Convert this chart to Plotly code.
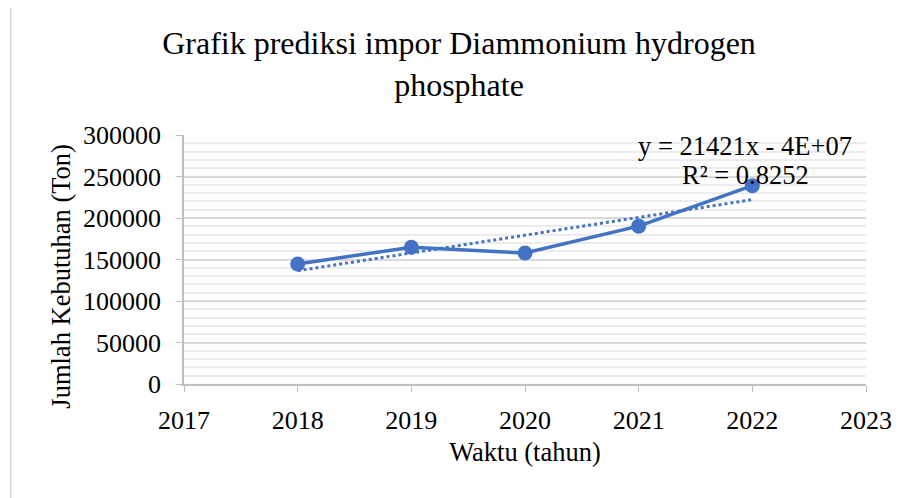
import numpy as np
import plotly.graph_objects as go

# data
tahun = [2018, 2019, 2020, 2021, 2022]
kebutuhan = [144600, 164800, 157780, 190210, 239000]

x_ticks = [2017, 2018, 2019, 2020, 2021, 2022, 2023]

# linear trendline (Excel style)
slope, intercept = np.polyfit(tahun, kebutuhan, 1)
trend = np.polyval([slope, intercept], tahun)
y_arr = np.array(kebutuhan)
r2 = 1 - np.sum((y_arr - trend) ** 2) / np.sum((y_arr - y_arr.mean()) ** 2)
sign = "-" if intercept < 0 else "+"
eq_line = f"y = {slope:.0f}x {sign} {abs(intercept):.0E}"
r2_line = f"R² = {r2:.4f}"

blue = "#4472C4"
serif = "Liberation Serif"

data_line = go.Scatter(
    x=tahun,
    y=kebutuhan,
    mode="lines+markers",
    line=dict(color=blue, width=3.5),
    marker=dict(color=blue, size=15),
    showlegend=False,
)
trend_line = go.Scatter(
    x=tahun,
    y=trend,
    mode="lines",
    line=dict(color=blue, width=3, dash="dot"),
    showlegend=False,
)

fig = go.Figure([trend_line, data_line])

# the page body adds an 8px offset, so the figure is 902x490
fig.update_layout(
    width=902,
    height=490,
    margin=dict(l=176, r=44, t=127, b=114),
    paper_bgcolor="white",
    plot_bgcolor="white",
    font=dict(family=serif, size=26, color="black"),
    title=dict(
        text="Grafik prediksi impor Diammonium hydrogen<br>phosphate",
        x=0.5,
        xanchor="center",
        y=0.906,
        yanchor="top",
        font=dict(family=serif, size=32, color="black"),
    ),
)

fig.update_xaxes(
    range=[2017, 2023],
    tickvals=x_ticks,
    ticks="outside",
    ticklen=6,
    tickcolor="#bfbfbf",
    ticklabelstandoff=6,
    tickfont=dict(family=serif, size=26),
    showline=True,
    linecolor="#bfbfbf",
    linewidth=1.5,
    showgrid=False,
    zeroline=False,
    title=dict(text="Waktu (tahun)", standoff=8, font=dict(family=serif, size=26.5)),
)
fig.update_yaxes(
    range=[0, 300000],
    dtick=50000,
    tickformat="d",
    ticks="outside",
    ticklen=6,
    tickcolor="#bfbfbf",
    ticklabelstandoff=10,
    tickfont=dict(family=serif, size=26),
    showline=True,
    linecolor="#bfbfbf",
    linewidth=1.5,
    showgrid=True,
    gridcolor="#d9d9d9",
    gridwidth=1.5,
    minor=dict(dtick=10000, showgrid=True, gridcolor="#ececec", gridwidth=1.5),
    zeroline=False,
)

# y axis title placed like Excel's
fig.add_annotation(
    x=-0.180, y=0.432, xref="paper", yref="paper",
    text="Jumlah Kebutuhan (Ton)",
    textangle=-90,
    showarrow=False,
    xanchor="center",
    yanchor="middle",
    font=dict(family=serif, size=26.5, color="black"),
)

# trendline equation
for txt, ypos in [(eq_line, 0.956), (r2_line, 0.840)]:
    fig.add_annotation(
        x=0.823, y=ypos, xref="paper", yref="paper",
        text=txt,
        showarrow=False,
        xanchor="center",
        yanchor="middle",
        font=dict(family=serif, size=26.5, color="black"),
    )

# chart frame
fig.add_shape(
    type="rect", xref="paper", yref="paper",
    x0=-0.254, x1=1.2, y0=-0.6, y1=1.514,
    line=dict(color="#d9d9d9", width=1.5),
    fillcolor="rgba(0,0,0,0)",
    layer="below",
)

fig.write_html("out.html")
